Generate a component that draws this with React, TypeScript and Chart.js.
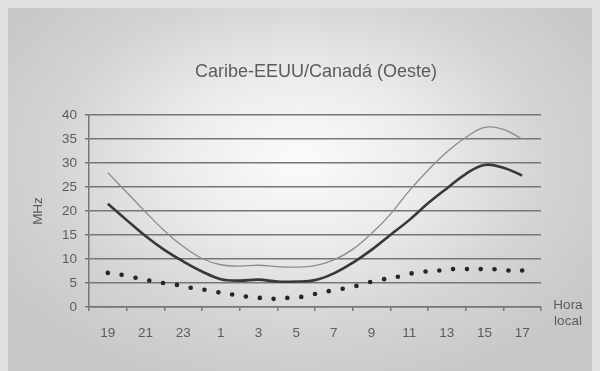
import React, { useEffect, useRef } from "react";
import { Chart, registerables } from "chart.js";

Chart.register(...registerables);

const TITLE = "Caribe-EEUU/Canadá (Oeste)";
const Y_TITLE = "MHz";
const X_TITLE = ["Hora", "local"];

// x positions are hours after 19h local
const tickHours = [0, 2, 4, 6, 8, 10, 12, 14, 16, 18, 20, 22];
const tickLabels = ["19", "21", "23", "1", "3", "5", "7", "9", "11", "13", "15", "17"];

const lineHours = [0, 1, 2, 3, 4, 5, 6, 7, 8, 9, 10, 11, 12, 13, 14, 15, 16, 17, 18, 19, 20, 21, 22];
const upperMuf = [28.0, 23.9, 19.8, 15.9, 12.6, 10.1, 8.8, 8.5, 8.7, 8.4, 8.3, 8.6, 9.8, 12.0, 15.3, 19.3, 24.2, 28.5, 32.3, 35.3, 37.4, 37.0, 35.0];
const muf = [21.5, 18.1, 14.8, 11.9, 9.5, 7.4, 5.8, 5.5, 5.7, 5.3, 5.3, 5.6, 7.0, 9.2, 11.9, 15.0, 18.1, 21.6, 24.7, 27.7, 29.6, 29.0, 27.4];

const dotHours = [0, 0.73, 1.47, 2.2, 2.93, 3.67, 4.4, 5.13, 5.87, 6.6, 7.33, 8.07, 8.8, 9.53, 10.27, 11, 11.73, 12.47, 13.2, 13.93, 14.67, 15.4, 16.13, 16.87, 17.6, 18.33, 19.07, 19.8, 20.53, 21.27, 22];
const luf = [7.1, 6.7, 6.1, 5.5, 5.0, 4.6, 4.0, 3.6, 3.05, 2.6, 2.2, 1.9, 1.7, 1.9, 2.1, 2.7, 3.3, 3.8, 4.4, 5.2, 5.8, 6.3, 7.0, 7.4, 7.6, 7.9, 7.9, 7.9, 7.85, 7.6, 7.6];

const FONT = "'Liberation Sans', Arial, Helvetica, sans-serif";
const TEXT = "#5c5c5c";
const GRID = "#767676";

const textPlugin = {
  id: "extraText",
  afterDraw(chart: any) {
    const ctx = chart.ctx;
    const area = chart.chartArea;
    ctx.save();
    ctx.fillStyle = TEXT;
    ctx.textAlign = "center";
    ctx.textBaseline = "middle";
    ctx.font = `18px ${FONT}`;
    ctx.fillText(TITLE, (area.left + area.right) / 2 + 1, 72);
    ctx.font = `13.5px ${FONT}`;
    ctx.fillText(X_TITLE[0], area.right + 27, area.bottom - 2);
    ctx.fillText(X_TITLE[1], area.right + 27, area.bottom + 14);
    ctx.restore();
  },
};

export default function App() {
  const ref = useRef<HTMLCanvasElement | null>(null);

  useEffect(() => {
    if (!ref.current) return;
    const chart = new Chart(ref.current, {
      type: "line",
      data: {
        datasets: [
          {
            label: "upper",
            data: lineHours.map((h, i) => ({ x: h, y: upperMuf[i] })),
            borderColor: "#8c8c8c",
            borderWidth: 1.3,
            pointRadius: 0,
            tension: 0.4,
            fill: false,
          },
          {
            label: "muf",
            data: lineHours.map((h, i) => ({ x: h, y: muf[i] })),
            borderColor: "#383838",
            borderWidth: 2.6,
            pointRadius: 0,
            tension: 0.4,
            fill: false,
          },
          {
            label: "luf",
            data: dotHours.map((h, i) => ({ x: h, y: luf[i] })),
            showLine: false,
            pointRadius: 2.3,
            pointBackgroundColor: "#262626",
            pointBorderWidth: 0,
            pointBorderColor: "#262626",
          },
        ],
      },
      options: {
        responsive: false,
        animation: false,
        events: [],
        layout: { padding: { top: 115, right: 59, left: 0, bottom: 0 } },
        plugins: { legend: { display: false }, tooltip: { enabled: false }, title: { display: false } },
        scales: {
          x: {
            type: "linear",
            min: -1,
            max: 23,
            afterBuildTicks: (s: any) => {
              s.ticks = tickHours.map((v) => ({ value: v }));
            },
            afterFit: (s: any) => {
              s.height = 64;
            },
            ticks: {
              autoSkip: false,
              maxRotation: 0,
              padding: 14,
              color: TEXT,
              font: { family: FONT, size: 13.5 },
              callback: (v: any) => {
                const i = tickHours.indexOf(Number(v));
                return i >= 0 ? tickLabels[i] : "";
              },
            },
            grid: {
              offset: true,
              drawOnChartArea: true,
              color: (c: any) => (c.index === tickHours.length ? GRID : "rgba(0,0,0,0)"),
              tickColor: GRID,
              tickLength: 4,
              lineWidth: 1.5,
            },
            border: { display: true, color: GRID, width: 1.5 },
          },
          y: {
            min: 0,
            max: 40,
            afterFit: (s: any) => {
              s.width = 89;
            },
            ticks: {
              stepSize: 5,
              padding: 8,
              color: TEXT,
              font: { family: FONT, size: 13.5 },
            },
            grid: { color: GRID, lineWidth: 1.5, tickLength: 4, tickColor: GRID },
            border: { display: true, color: GRID, width: 1.5 },
            title: {
              display: true,
              text: Y_TITLE,
              color: TEXT,
              font: { family: FONT, size: 13.5 },
              padding: { top: 30, bottom: 0 },
            },
          },
        },
      },
      plugins: [textPlugin],
    } as any);
    return () => chart.destroy();
  }, []);

  return (
    <div
      style={{
        position: "absolute",
        left: 0,
        top: 0,
        width: 600,
        height: 371,
        background: "#e0e0e0",
        overflow: "hidden",
      }}
    >
      <div
        style={{
          position: "absolute",
          left: 8,
          top: 8,
          right: 8,
          bottom: 0,
          background:
            "radial-gradient(ellipse 60% 65% at 50% 42%, #fbfbfb 0%, #ececec 35%, #d4d4d4 70%, #c8c8c8 100%)",
        }}
      />
      <canvas
        ref={ref}
        width={600}
        height={371}
        style={{ position: "absolute", left: 0, top: 0, width: 600, height: 371 }}
      />
    </div>
  );
}
